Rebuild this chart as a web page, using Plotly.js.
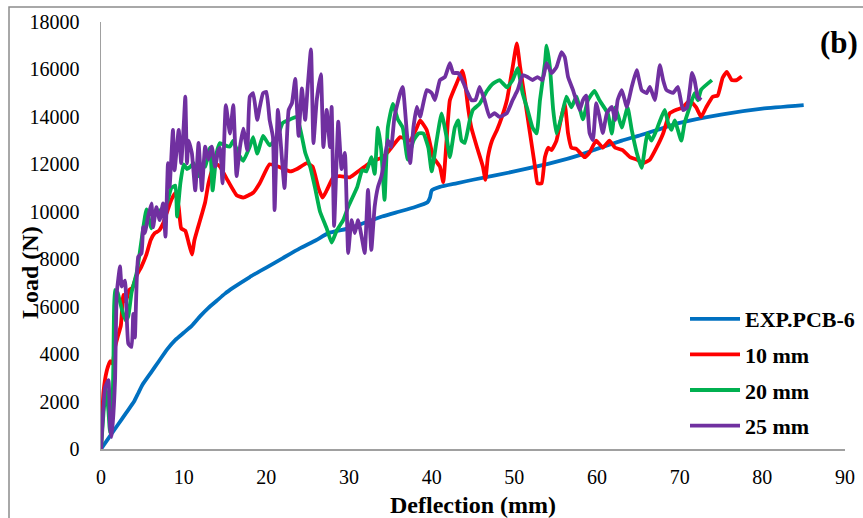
<!DOCTYPE html>
<html>
<head>
<meta charset="utf-8">
<script src="https://cdn.plot.ly/plotly-3.0.1.min.js"></script>
<style>html,body{margin:0;padding:0;background:#fff;}#chart{width:863px;height:518px;}</style>
</head>
<body>
<div id="chart"></div>
<script>
// ---- data ----
const seriesNames = ["EXP.PCB-6", "10 mm", "20 mm", "25 mm"];

const expX = [0,1,2,3,4,4.5,5,6,7,8,9,10,11,12,13,14,15,16,18,20,22,24,26,27.5,30,32,34,36,38,39.5,39.8,40,41,43,45,50,55,58,60,63,65,70,75,80,85];
const expY = [0,500,1000,1500,2000,2350,2700,3200,3700,4200,4600,4900,5200,5600,5950,6250,6550,6800,7250,7650,8050,8450,8800,9100,9300,9550,9800,10000,10200,10400,10600,10900,11050,11200,11350,11700,12100,12400,12650,13000,13200,13750,14100,14350,14500];

const mm10X = [0,0.3,0.7,1.1,1.4,1.7,2.0,2.4,2.7,3.0,3.4,3.8,4.3,4.9,5.5,6.0,6.5,7.0,7.5,8.0,8.5,9.0,9.4,9.7,10.2,10.6,11.0,11.3,11.7,12.2,12.6,13.0,13.5,14.0,14.4,15.2,16.4,17.2,18.4,19.2,20.4,21.5,22.9,23.7,24.9,25.6,26.3,26.8,27.3,28.1,28.9,30.1,31.3,32.1,32.9,34.1,34.9,36.2,37.4,38.2,38.6,39.4,40.2,41.0,41.4,41.8,42.2,43.0,43.7,44.0,44.4,44.8,45.5,46.2,46.5,46.8,47.3,47.9,48.5,49.1,49.8,50.3,50.7,51.3,51.9,52.5,52.8,53.3,53.7,54.1,54.5,55.1,55.7,56.1,56.5,56.9,57.5,58.5,59.1,59.9,60.7,61.5,62.2,63.1,64.0,64.8,65.6,66.4,67.2,68.0,68.8,69.6,70.4,71.2,72.0,72.6,73.2,74.0,74.6,75.2,75.7,76.3,76.9,77.5];
const mm10Y = [0,2400,3300,3700,3600,4300,4700,5200,6500,6200,6700,6800,7300,7700,8200,8800,9100,9200,9500,10000,10500,10800,10200,9300,9200,8700,8200,8800,9300,9900,10400,11200,11800,12000,11900,11400,10700,10600,10800,11200,12000,11900,11700,11800,12050,11900,11000,10600,10900,11450,11500,11450,11750,11950,12150,12300,12600,13150,13000,13550,13850,13450,12300,11900,11250,13000,14700,15400,15950,15550,14400,13550,12700,11900,11350,12300,13000,13450,14000,14700,16100,17100,16100,14700,13300,11900,11200,11200,12300,12700,12600,13000,14000,14550,13300,12700,12650,12300,12500,13000,12700,13000,12700,12600,12300,12200,12050,12200,12700,13300,14150,14300,14400,14700,14400,14000,14400,14850,14900,15650,15900,15550,15550,15700];

const mm20X = [0,0.3,0.6,0.9,1.1,1.3,1.5,1.7,2.0,2.3,2.6,3.0,3.3,3.7,4.3,4.7,5.1,5.5,6.1,6.5,7.3,8.0,8.5,9.0,9.2,9.6,10.0,10.4,10.8,11.2,11.8,12.2,12.6,13.2,13.5,14.0,14.4,15.0,15.6,16.0,16.6,17.2,18.0,18.4,18.9,19.6,20.4,21.3,22.0,22.9,23.7,24.7,25.3,25.9,26.5,27.3,27.9,28.5,29.3,29.9,31.0,31.6,32.1,32.7,33.1,33.5,33.9,34.3,34.7,35.3,35.9,36.5,37.1,37.8,38.4,39.0,39.6,40.0,40.6,41.2,41.8,42.2,42.8,43.2,43.6,44.0,44.6,45.0,45.8,46.7,47.4,48.2,49.1,49.8,50.4,51.0,51.6,52.2,52.7,53.1,53.7,53.9,54.3,54.7,55.1,55.7,56.3,56.9,57.5,58.3,58.9,59.7,60.3,61.3,61.8,62.2,62.6,63.0,63.7,64.2,64.8,65.4,65.8,66.1,66.6,67.2,67.8,68.2,68.6,69.0,69.4,70.2,70.6,71.2,71.8,72.2,72.6,73.9];
const mm20Y = [0,1500,2600,1600,700,900,3600,6700,6600,6200,5800,5400,5600,6600,7400,8300,9300,10100,9300,9900,10100,10400,11000,11100,9800,11200,12000,11800,11900,12050,11500,11900,11900,12700,10900,12500,12900,12800,12750,13000,12450,12150,12750,13150,12450,13200,12800,13150,13750,13900,14000,12500,11900,11000,10000,9300,8700,9200,9650,10200,11050,11750,11700,12300,11600,13550,12600,10500,13550,14550,13900,13550,12200,13000,13300,13300,12700,11700,13000,14150,13150,12300,13550,13850,13000,12900,13850,14300,14550,15100,15400,15550,15250,15550,16050,15000,14300,13550,13300,14700,16250,17000,16100,14300,13300,14000,14850,14400,14850,13900,14700,15100,14700,14150,13300,14400,14000,13550,14400,13450,12500,11850,12700,13300,13000,13450,14000,14300,13750,13450,13850,13000,13750,14400,15000,14700,15150,15550];

const mm25X = [0,0.5,0.9,1.1,1.3,1.7,1.9,2.3,2.5,2.9,3.3,3.7,3.9,4.1,4.5,4.9,5.1,5.3,5.7,6.1,6.3,6.7,7.1,7.5,7.8,8.1,8.3,8.7,8.9,9.4,9.7,10.0,10.2,10.4,10.6,11.0,11.4,11.8,12.2,12.6,13.0,13.4,13.8,14.2,14.4,14.7,15.1,15.6,16.0,16.4,16.8,17.2,17.7,18.0,18.4,18.9,19.2,19.6,20.0,20.4,20.8,21.0,21.4,21.9,22.2,22.7,23.1,23.5,23.9,24.3,24.7,25.0,25.4,25.7,26.1,26.6,26.9,27.3,27.7,27.9,28.2,28.7,29.1,29.5,29.9,30.3,30.7,31.1,31.6,31.9,32.3,32.7,33.1,33.5,33.9,34.3,34.7,35.1,35.5,36.2,36.5,37.0,37.4,37.8,38.2,38.6,39.4,40.0,40.4,41.0,41.6,42.2,42.6,43.2,43.7,44.2,44.8,45.3,45.8,46.4,47.0,47.6,48.2,49.1,49.8,50.4,51.0,51.6,52.2,52.8,53.4,53.9,54.5,55.1,55.7,56.1,56.5,57.1,57.9,58.3,58.7,59.1,59.5,59.9,60.3,60.7,61.2,61.8,62.2,62.5,63.0,63.6,64.2,64.8,65.4,66.0,66.4,67.0,67.6,68.0,68.4,69.2,69.8,70.4,70.9,71.5,71.8,72.2,72.6];
const mm25Y = [0,2600,2900,900,500,2900,6550,7700,6850,7100,4450,4300,5700,4700,8100,8250,9350,9100,9800,10350,9350,10200,9650,10350,8950,12050,11050,13450,11750,13450,12050,13600,14850,12050,13000,12450,10900,12900,10900,12750,12200,12750,11900,12600,12700,11200,14500,13300,14500,11500,12700,13500,12600,14850,15000,13870,14400,15000,15050,13870,13150,10070,14290,12180,11000,14290,14580,15600,13200,15200,13870,15260,16850,12900,14710,15800,12730,14290,12730,14420,9400,13800,11800,12480,8260,9650,9100,9650,8810,8260,10920,8390,10200,11040,11470,12180,13020,12730,14000,15010,15260,13320,12050,13570,14420,14000,15130,15010,14710,15550,15680,16270,15850,15850,15550,15130,14710,14710,15260,14710,14000,14160,14000,14160,14710,15130,15760,15680,15550,15680,15550,16270,15850,16100,16730,16520,15680,15130,14290,14710,14900,13320,13020,14580,14000,13320,14160,14420,13870,14710,15130,14420,15260,15970,15130,15000,15260,14710,16180,15550,15130,15010,15260,14290,14400,15850,15550,14840,14710];

const xTickVals = [0,10,20,30,40,50,60,70,80,90];
const yTickVals = [0,2000,4000,6000,8000,10000,12000,14000,16000,18000];
const seriesColors = ["#0070C0", "#FF0000", "#00B050", "#7030A0"];

// ---- chart ----
const xs = [expX, mm10X, mm20X, mm25X];
const ys = [expY, mm10Y, mm20Y, mm25Y];
const traces = xs.map((x, i) => ({
  type: "scatter",
  mode: "lines",
  x: x,
  y: ys[i],
  name: seriesNames[i],
  legendgroup: "g" + i,
  line: {color: seriesColors[i], width: 3.8, shape: "spline", smoothing: 0.4}
}));

const FONT = "'Liberation Serif', 'Times New Roman', serif";

const layout = {
  width: 863,
  height: 518,
  margin: {l: 101, r: 18, t: 22, b: 69, autoexpand: false},
  paper_bgcolor: "#ffffff",
  plot_bgcolor: "#ffffff",
  showlegend: true,
  font: {family: FONT, size: 20, color: "#000"},
  xaxis: {
    range: [0, 90],
    tickvals: xTickVals,
    ticktext: xTickVals.map(String),
    showgrid: false,
    zeroline: false,
    showline: true,
    linecolor: "#A0A0A0",
    linewidth: 1.5,
    ticks: "outside",
    ticklen: 9,
    tickcolor: "rgba(0,0,0,0)",
    tickfont: {family: FONT, size: 20, color: "#000"},
    title: {text: "<b>Deflection (mm)</b>", font: {family: FONT, size: 24, color: "#000"}, standoff: 11}
  },
  yaxis: {
    range: [0, 18000],
    tickvals: yTickVals,
    ticktext: yTickVals.map(String),
    showgrid: false,
    zeroline: false,
    showline: true,
    linecolor: "#A0A0A0",
    linewidth: 1.5,
    ticks: "outside",
    ticklen: 16,
    tickcolor: "rgba(0,0,0,0)",
    tickfont: {family: FONT, size: 20, color: "#000"}
  },
  legend: {
    x: (685 - 101) / 744,
    xanchor: "left",
    y: (449 - 298) / 427,
    yanchor: "top",
    bgcolor: "rgba(0,0,0,0)",
    borderwidth: 0,
    tracegroupgap: 4,
    itemwidth: 50,
    font: {family: FONT, size: 22, color: "#000", weight: "bold"}
  },
  annotations: [
    {text: "<b>Load (N)</b>", xref: "paper", yref: "paper",
     x: (30 - 101) / 744, y: (449 - 273) / 427, textangle: -90,
     showarrow: false, xanchor: "center", yanchor: "middle",
     font: {family: FONT, size: 24, color: "#000"}},
    {text: "<b>(b)</b>", xref: "paper", yref: "paper",
     x: (839 - 101) / 744, y: (449 - 42) / 427,
     showarrow: false, xanchor: "center", yanchor: "middle",
     font: {family: FONT, size: 31, color: "#000"}}
  ],
  shapes: [
    {type: "rect", xref: "paper", yref: "paper",
     x0: (9 - 101) / 744, x1: (875 - 101) / 744,
     y0: (449 - 7) / 427, y1: (449 - 530) / 427,
     line: {color: "#8C8C8C", width: 1.5}, fillcolor: "rgba(0,0,0,0)", layer: "below"}
  ]
};

Plotly.newPlot("chart", traces, layout, {displayModeBar: false, staticPlot: true});
</script>
</body>
</html>
